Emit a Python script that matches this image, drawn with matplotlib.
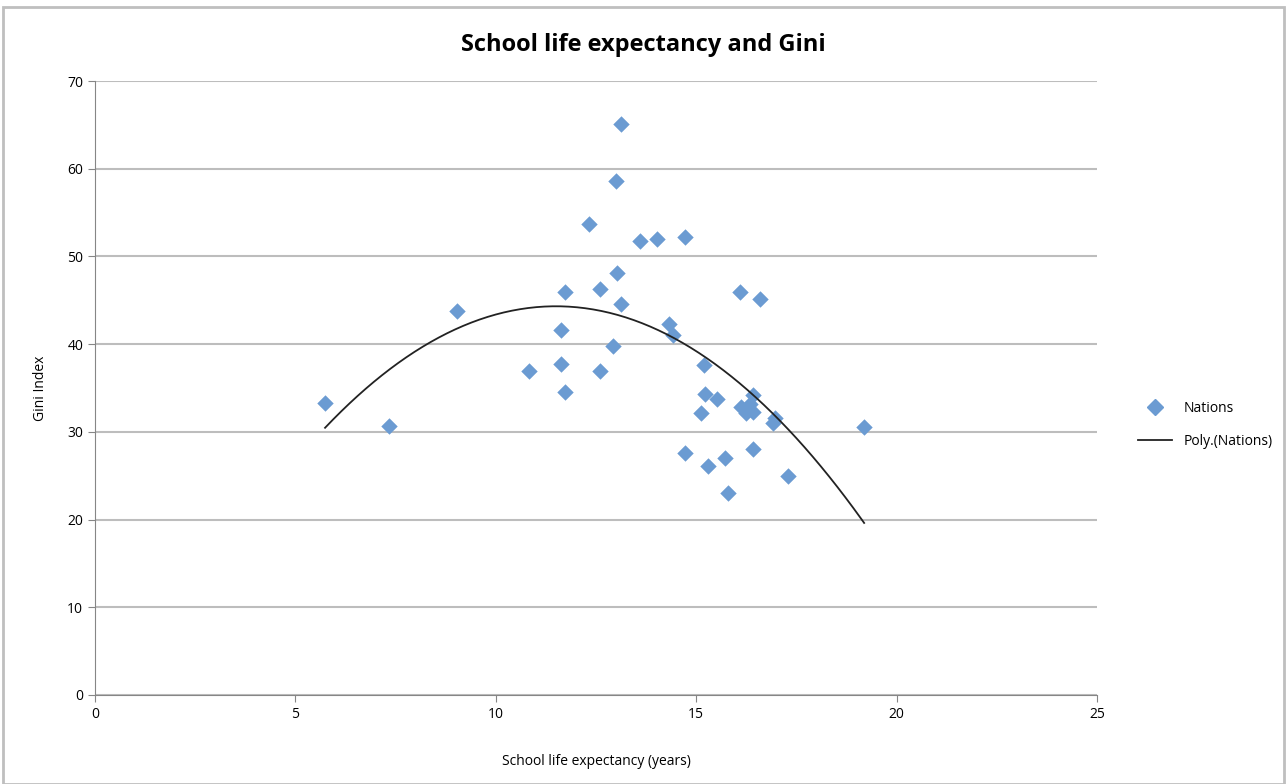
import numpy as np
import matplotlib.pyplot as plt
from matplotlib.patches import Rectangle
from matplotlib.lines import Line2D

# School life expectancy (years) vs Gini index, one point per nation
school_years = [5.74, 7.34, 9.03, 10.83, 11.63, 11.63, 11.73, 11.73, 12.33, 12.6,
                12.6, 12.92, 13.02, 13.12, 13.12, 13.0, 13.6, 14.02, 14.72, 14.32,
                14.42, 15.2, 15.22, 15.52, 15.12, 14.72, 15.29, 15.72, 15.79, 16.09,
                16.59, 16.42, 16.12, 16.24, 16.34, 16.42, 16.42, 16.97, 16.92, 17.29,
                19.19]
gini = [33.3, 30.7, 43.8, 36.9, 41.6, 37.7, 45.95, 34.5, 53.7, 46.3,
        36.9, 39.8, 48.1, 65.1, 44.6, 58.6, 51.8, 52.0, 52.2, 42.3,
        41.0, 37.6, 34.3, 33.75, 32.2, 27.6, 26.1, 27.0, 23.0, 45.95,
        45.2, 34.2, 32.8, 32.2, 33.2, 32.3, 28.05, 31.6, 31.0, 25.0,
        30.6]
xticks = [0, 5, 10, 15, 20, 25]
yticks = [0, 10, 20, 30, 40, 50, 60, 70]

fig = plt.figure(figsize=(12.87, 7.84), dpi=100)
plt.rcParams['font.family'] = ['Open Sans', 'DejaVu Sans']
ax = fig.add_axes([95 / 1287, 1 - 695 / 784, 1002 / 1287, 614 / 784])

blue = '#6B9BD2'
ax.scatter(school_years, gini, marker='D', s=70, color=blue, zorder=3, linewidths=0)

# order-2 polynomial trendline
coef = np.polyfit(school_years, gini, 2)
xs = np.linspace(min(school_years), max(school_years), 200)
ax.plot(xs, np.polyval(coef, xs), color='#222222', lw=1.3, zorder=4)

ax.set_xlim(0, 25)
ax.set_ylim(0, 70)
ax.set_xticks(xticks)
ax.set_yticks(yticks)
ax.tick_params(labelsize=10, length=5, color='#868686', direction='out')
ax.grid(axis='y', color='#BDBDBD', lw=1.5)
ax.set_axisbelow(True)
for s in ['top', 'right']:
    ax.spines[s].set_visible(False)
for s in ['left', 'bottom']:
    ax.spines[s].set_color('#868686')
ax.set_xlabel('School life expectancy (years)', fontsize=10, labelpad=23)
ax.set_ylabel('Gini Index', fontsize=10, labelpad=14)
fig.text(0.5, 1 - 45 / 784, 'School life expectancy and Gini', fontsize=17,
         fontweight='bold', ha='center', va='center')

handles = [Line2D([], [], marker='D', ls='none', color=blue, markersize=8),
           Line2D([], [], color='#222222', lw=1.3)]
fig.legend(handles, ['Nations', 'Poly.(Nations)'], loc='center left',
           bbox_to_anchor=(1125 / 1287, 1 - 425 / 784), frameon=False,
           fontsize=10, handlelength=2.5, labelspacing=1.3)

fig.patches.append(Rectangle((3 / 1287, 0), 1281 / 1287, 1 - 7 / 784,
                             transform=fig.transFigure, fill=False,
                             edgecolor='#BFBFBF', lw=2))
fig.savefig('out.png', dpi=100)
